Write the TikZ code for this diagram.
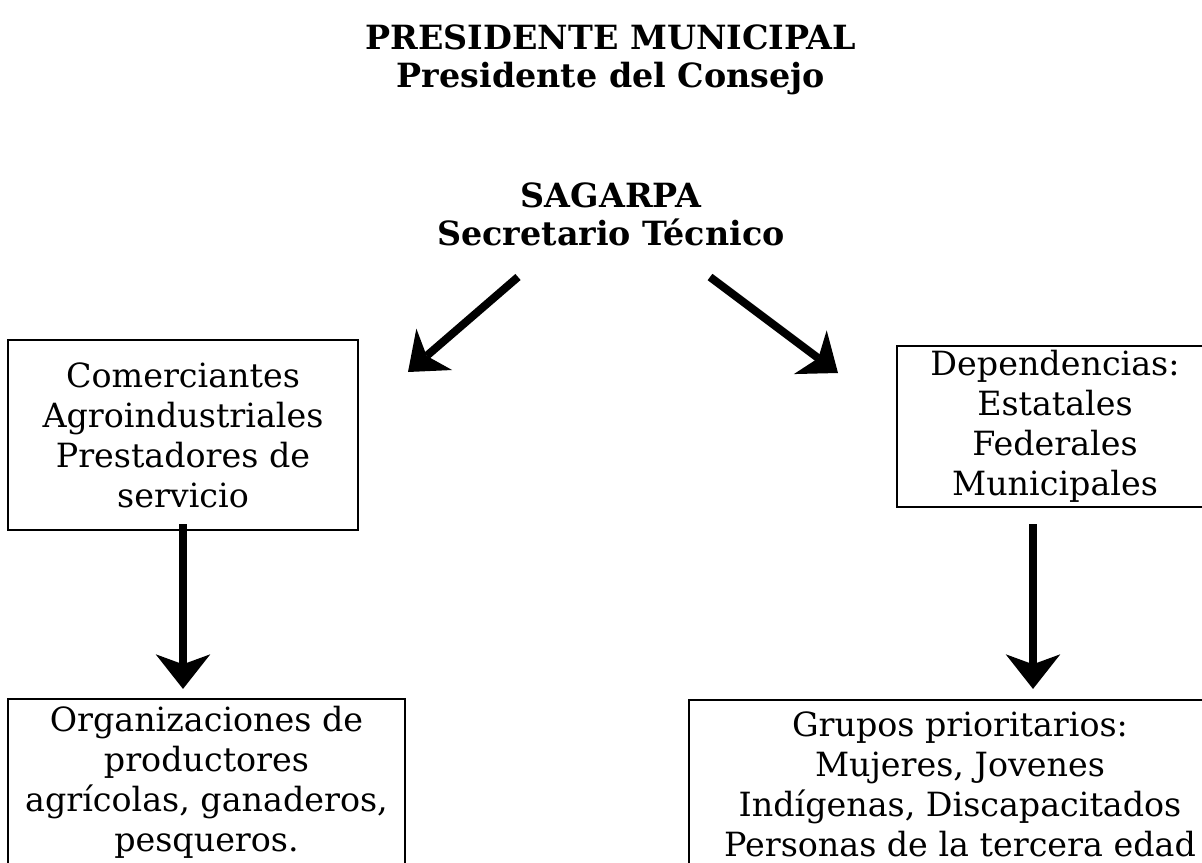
\documentclass[tikz,border=0pt]{standalone}
\usepackage{fontspec}
\setmainfont{DejaVu Serif}
\usetikzlibrary{arrows.meta}

\begin{document}
\begin{tikzpicture}[x=0.75pt, y=-0.75pt,
  heading/.style={font=\bfseries\fontsize{25}{28.5}\selectfont, align=center},
  box/.style={draw, line width=1.6pt, inner sep=0pt, align=center,
    font=\fontsize{25}{30}\selectfont},
  bigarrow/.style={line width=6pt,
    -{Stealth[length=26pt, width=41pt, inset=7.5pt, line width=0pt]}}]
  % page frame
  \useasboundingbox (0,0) rectangle (1202,863);
  \clip (0,0) rectangle (1202,863);

  % headings
  \node[heading] (pres) at (611,60) {PRESIDENTE MUNICIPAL\\Presidente del Consejo};
  \node[heading] (sag) at (611,214) {SAGARPA\\Secretario Técnico};

  % boxes
  \node[box, minimum width=262.5pt, minimum height=142.5pt] (com) at (183,435)
    {Comerciantes\\Agroindustriales\\Prestadores de\\servicio};
  \node[box, minimum width=237pt, minimum height=120.75pt] (dep) at (1055,426.5)
    {Dependencias:\\Estatales\\Federales\\Municipales};
  \node[box, minimum width=297.75pt, minimum height=125.25pt] (org) at (206.5,782.5)
    {Organizaciones de\\productores\\agrícolas, ganaderos,\\pesqueros.};
  \node[box, minimum width=406.5pt, minimum height=126.75pt] (gru) at (960,784.5)
    {Grupos prioritarios:\\Mujeres, Jovenes\\Indígenas, Discapacitados\\Personas de la tercera edad};

  % arrows
  \coordinate (sagL) at (518,277);
  \coordinate (comT) at (408,372);
  \coordinate (sagR) at (710,277);
  \coordinate (depT) at (838,373);
  \draw[bigarrow] (sagL) -- (comT);
  \draw[bigarrow] (sagR) -- (depT);
  \draw[bigarrow, shorten >=6.75pt] ([shift={(0,-7)}]com.south) -- (com.south |- org.north);
  \draw[bigarrow, shorten >=7.5pt] ([shift={(-22,16)}]dep.south) -- ([shift={(-22,0)}]dep.south |- gru.north);
\end{tikzpicture}
\end{document}
